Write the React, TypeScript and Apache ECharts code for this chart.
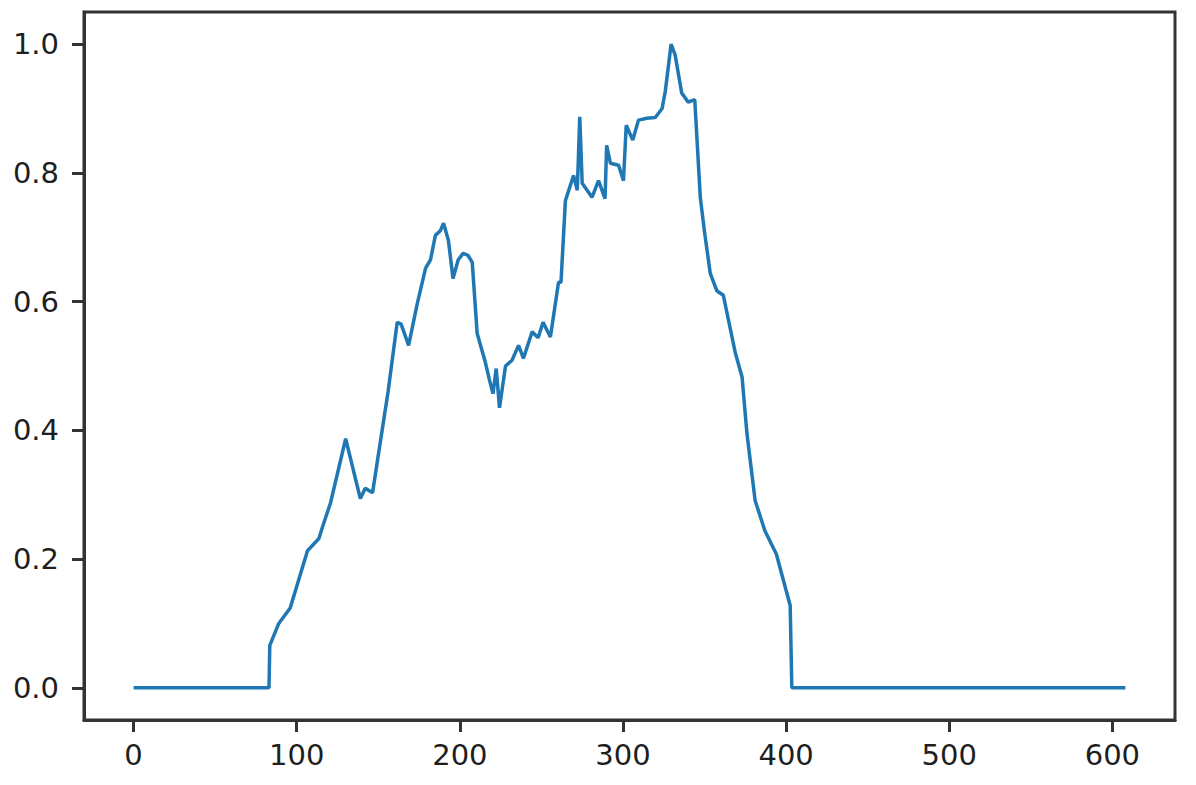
import React, { useEffect, useRef } from "react";
import * as echarts from "echarts";

const xValues: number[] = [
  0, 83, 83.5, 89, 96, 106.6, 113.6, 115.7, 120.8, 130, 139, 142, 146.5, 149.5, 156,
  161.6, 164, 168.6, 173.9, 179, 182, 185, 188, 190, 193, 195.8, 199, 202, 205, 207.6,
  210.6, 215.7, 218, 220.3, 222.3, 224.3, 228, 232, 236, 239, 244.3, 248, 251, 255.5,
  260.5, 262, 264.7, 269.7, 272, 273.5, 275, 281, 285, 289, 290, 292.3, 297.3, 300.3,
  302, 306, 309.5, 314.7, 319.8, 324, 326, 329.5, 332, 336, 340, 344, 347.4, 350,
  353.5, 357.5, 361.5, 368.8, 373, 376, 381, 387, 394, 402.5, 403.5, 608,
];

const yValues: number[] = [
  0, 0, 0.066, 0.1, 0.124, 0.213, 0.232, 0.249, 0.288, 0.387, 0.294, 0.31, 0.303, 0.353, 0.46,
  0.568, 0.565, 0.532, 0.597, 0.652, 0.665, 0.703, 0.71, 0.722, 0.695, 0.636, 0.665, 0.675, 0.672, 0.661,
  0.551, 0.505, 0.48, 0.457, 0.496, 0.435, 0.5, 0.509, 0.532, 0.512, 0.553, 0.544, 0.568, 0.545,
  0.63, 0.63, 0.757, 0.796, 0.773, 0.887, 0.784, 0.762, 0.788, 0.76, 0.843, 0.815, 0.812, 0.788,
  0.874, 0.851, 0.882, 0.885, 0.886, 0.9, 0.928, 1.0, 0.983, 0.924, 0.91, 0.914, 0.762, 0.708,
  0.644, 0.617, 0.61, 0.521, 0.483, 0.395, 0.291, 0.244, 0.208, 0.128, 0, 0,
];

const xTicks: number[] = [0, 100, 200, 300, 400, 500, 600];
const yTicks: number[] = [0, 0.2, 0.4, 0.6, 0.8, 1.0];

export default function App() {
  const ref = useRef<HTMLDivElement>(null);
  useEffect(() => {
    if (!ref.current) return;
    const chart = echarts.init(ref.current, undefined, { renderer: "svg" });
    const data = xValues.map((x, i) => [x, yValues[i]]);
    const labelStyle = {
      color: "#1e1e1e",
      fontFamily: "DejaVu Sans",
      fontSize: 29,
    };
    const axisColor = "#333333";
    chart.setOption({
      animation: false,
      backgroundColor: "#ffffff",
      grid: {
        left: 84,
        right: 21,
        top: 12,
        bottom: 65,
        show: true,
        borderColor: axisColor,
        borderWidth: 3,
        backgroundColor: "transparent",
      },
      xAxis: {
        type: "value",
        min: -30.4,
        max: 638.4,
        splitLine: { show: false },
        axisLine: { show: true, onZero: false, lineStyle: { color: axisColor, width: 3 } },
        axisTick: {
          show: true,
          inside: false,
          length: 12,
          customValues: xTicks,
          lineStyle: { color: axisColor, width: 3 },
        },
        axisLabel: {
          ...labelStyle,
          margin: 20,
          customValues: xTicks,
          formatter: (v: number) => String(v),
        },
      },
      yAxis: {
        type: "value",
        min: -0.05,
        max: 1.05,
        splitLine: { show: false },
        axisLine: { show: true, onZero: false, lineStyle: { color: axisColor, width: 3 } },
        axisTick: {
          show: true,
          inside: false,
          length: 12,
          customValues: yTicks,
          lineStyle: { color: axisColor, width: 3 },
        },
        axisLabel: {
          ...labelStyle,
          margin: 25,
          customValues: yTicks,
          formatter: (v: number) => v.toFixed(1),
        },
      },
      series: [
        {
          type: "line",
          data,
          showSymbol: false,
          symbol: "none",
          lineStyle: { color: "#1f77b4", width: 3.5 },
        },
      ],
    });
    return () => chart.dispose();
  }, []);
  return (
    <div
      ref={ref}
      style={{ position: "fixed", left: 0, top: 0, width: 1196, height: 785 }}
    />
  );
}
